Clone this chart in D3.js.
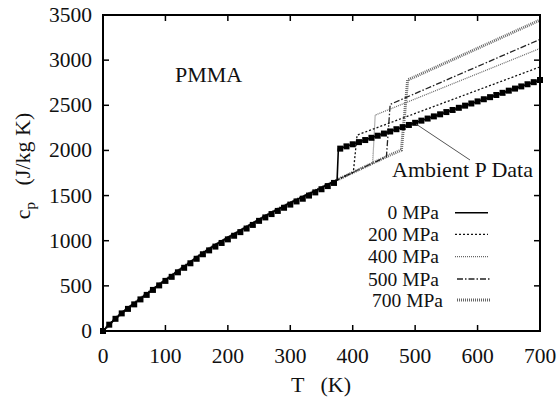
<!DOCTYPE html>
<html><head><meta charset="utf-8">
<script src="https://cdn.jsdelivr.net/npm/d3@7"></script>
<style>body{margin:0;background:#fff}svg{display:block}</style>
</head><body><svg id="c" width="558" height="400"></svg>
<script>
// Ambient pressure data (squares)
const dataT = [0,10,20,30,40,50,60,70,80,90,100,110,120,130,140,150,160,170,180,190,200,210,220,230,240,250,260,270,280,290,300,310,320,330,340,350,360,370,
  380,390,400,410,420,430,440,450,460,470,480,490,500,510,520,530,540,550,560,570,580,590,600,610,620,630,640,650,660,670,680,690,700];
const dataCp = [0,70,135,195,245,295,350,400,455,505,555,600,650,700,750,800,850,893,935,975,1015,1055,1095,1135,1175,1220,1258,1295,1330,1365,1400,1435,1465,1500,1535,1570,1605,1640,
  2020,2045,2068,2092,2115,2140,2163,2187,2210,2235,2258,2282,2306,2330,2353,2377,2400,2425,2448,2472,2496,2520,2543,2567,2590,2614,2638,2662,2685,2709,2733,2756,2780];
// Model: shared low-temperature (glassy) branch
const modelLowT = [0,10,20,30,40,50,60,70,80,90,100,120,140,160,180,200,220,240,260,280,300,320,340,360,375,380,400,420,440,460,480];
const modelLowCp = [0,72,138,200,255,305,360,412,465,515,565,665,765,865,955,1035,1115,1195,1275,1350,1420,1488,1555,1623,1672,1690,1755,1820,1885,1950,2010];
// Pressures and their transition / high-T branches
const pressures = ["0 MPa","200 MPa","400 MPa","500 MPa","700 MPa"];
const jumpStartT = [375,401,432,454,478];
const jumpEndT   = [377,407,436,460,488];
const jumpEndCp  = [2015,2170,2392,2510,2780];
const endCp      = [2780,2925,3130,3230,3444];
const xTicks = [0,100,200,300,400,500,600,700];
const yTicks = [0,500,1000,1500,2000,2500,3000,3500];

const svg = d3.select("#c");
const x = d3.scaleLinear().domain([0,700]).range([103,540]);
const y = d3.scaleLinear().domain([0,3500]).range([331,15]);
const FONT = "Liberation Serif, Times New Roman, Times, Tinos, Nimbus Roman, FreeSerif, Noto Serif, DejaVu Serif, serif";

const styles = [
  {stroke:"#000", w:1.6, dash:null},
  {stroke:"#111", w:1.3, dash:"2,2"},
  {stroke:"#666", w:1.2, dash:"1,1"},
  {stroke:"#222", w:1.3, dash:"6,2,1.5,2"},
  {stroke:"#666", w:3, dash:"1,1"}
];

const lowInterp = t => {
  for (let i=1;i<modelLowT.length;i++) if (t<=modelLowT[i]) {
    const f=(t-modelLowT[i-1])/(modelLowT[i]-modelLowT[i-1]);
    return modelLowCp[i-1]+f*(modelLowCp[i]-modelLowCp[i-1]);
  }
  return modelLowCp[modelLowCp.length-1];
};
const line = d3.line().x(d=>x(d[0])).y(d=>y(d[1]));

[4,3,2,1,0].forEach(i=>{
  const pts = [];
  modelLowT.forEach((t,k)=>{ if (t<jumpStartT[i]) pts.push([t,modelLowCp[k]]); });
  pts.push([jumpStartT[i], lowInterp(jumpStartT[i])]);
  pts.push([jumpEndT[i], jumpEndCp[i]]);
  pts.push([700, endCp[i]]);
  const s = styles[i];
  svg.append("path").attr("d", line(pts)).attr("fill","none")
    .attr("stroke", s.stroke).attr("stroke-width", s.w)
    .attr("stroke-dasharray", s.dash);
});

svg.append("g").selectAll("rect").data(dataT.map((t,i)=>[t,dataCp[i]])).join("rect")
  .attr("x", d=>x(d[0])-3).attr("y", d=>y(d[1])-3).attr("width",6).attr("height",6).attr("fill","#000");

svg.append("rect").attr("x",103).attr("y",15).attr("width",437).attr("height",316)
  .attr("fill","none").attr("stroke","#000").attr("stroke-width",2);

const tk = svg.append("g").attr("stroke","#000").attr("stroke-width",1.5);
xTicks.forEach(t=>{
  tk.append("line").attr("x1",x(t)).attr("x2",x(t)).attr("y1",331).attr("y2",325);
  tk.append("line").attr("x1",x(t)).attr("x2",x(t)).attr("y1",15).attr("y2",21);
});
yTicks.forEach(v=>{
  tk.append("line").attr("x1",103).attr("x2",109).attr("y1",y(v)).attr("y2",y(v));
  tk.append("line").attr("x1",540).attr("x2",534).attr("y1",y(v)).attr("y2",y(v));
});

// measure font scaling so text widths match the reference
const probe = svg.append("text").attr("font-family",FONT).attr("font-size",100).text("3500");
const k = 43 / (probe.node().getComputedTextLength()/100) / 21.5; // scale factor relative to serif
probe.remove();
const fs = v => Math.min(v, v*k);

const T = () => svg.append("text").attr("font-family",FONT).attr("fill","#111");

xTicks.forEach(d=>T().attr("x",x(d)).attr("y",363).attr("text-anchor","middle").attr("font-size",fs(21.5)).text(d));
yTicks.forEach(d=>T().attr("x",92).attr("y",y(d)+7).attr("text-anchor","end").attr("font-size",fs(21.5)).text(d));

T().attr("x",321).attr("y",392).attr("text-anchor","middle").attr("font-size",fs(22))
  .attr("xml:space","preserve").text("T   (K)");
const yl = T().attr("transform","translate(30,166) rotate(-90)")
  .attr("text-anchor","middle").attr("font-size",fs(22)).attr("xml:space","preserve");
yl.append("tspan").text("c");
yl.append("tspan").attr("font-size",fs(15)).attr("dy",5).text("p");
yl.append("tspan").attr("dy",-5).text("   (J/kg K)");

T().attr("x",175).attr("y",82).attr("font-size",fs(22)).text("PMMA");

svg.append("line").attr("x1",416).attr("y1",124).attr("x2",470).attr("y2",160)
  .attr("stroke","#555").attr("stroke-width",1);
T().attr("x",392).attr("y",177).attr("font-size",fs(22)).text("Ambient P Data");

const legY = [212.7,234.3,256.7,279,300];
pressures.forEach((p,i)=>{
  T().attr("x",439 + (i===4?4:0)).attr("y",legY[i]+6.5).attr("text-anchor","end")
    .attr("font-size",fs(19.5)).text(p);
  const s = styles[i];
  svg.append("line").attr("x1",455+(i>=3?2:0)).attr("x2",488+(i>=3?2:0)).attr("y1",legY[i]).attr("y2",legY[i])
    .attr("stroke",s.stroke).attr("stroke-width",s.w).attr("stroke-dasharray",s.dash);
});
</script></body></html>
